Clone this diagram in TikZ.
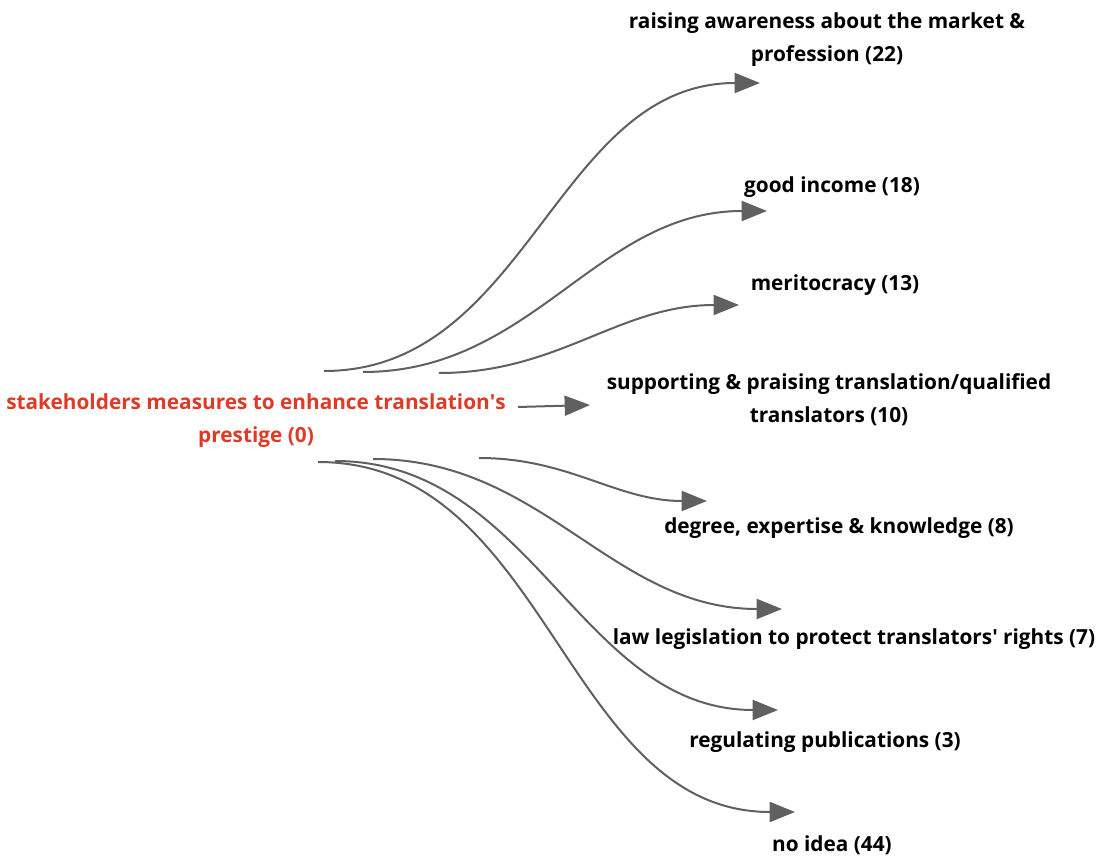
\documentclass[tikz,border=0pt]{standalone}
\usepackage{fontspec}
\setmainfont{Open Sans}
\usetikzlibrary{arrows.meta,positioning}
\definecolor{rootred}{RGB}{222,58,38}
\definecolor{linkgray}{RGB}{96,96,96}

\begin{document}
\begin{tikzpicture}[
    x=0.75pt, y=-0.75pt,
    font=\bfseries\fontsize{15.6}{24.8}\selectfont,
    label/.style={align=center, inner sep=0pt},
    root/.style={label, text=rootred},
    link/.style={-{Triangle[length=19pt, width=15pt]}, draw=linkgray, line width=1.5pt}
]
\useasboundingbox (0,0) rectangle (1104,859);

\node[root] (root) at (256,421) {stakeholders measures to enhance translation\textquotesingle s\\prestige (0)};

\node[label] (aware) at (827,40) {raising awareness about the market \&\\profession (22)};
\node[label] (income) at (832,187) {good income (18)};
\node[label] (merit) at (835,285) {meritocracy (13)};
\node[label] (support) at (829,400) {supporting \& praising translation/qualified\\translators (10)};
\node[label] (degree) at (839,528) {degree, expertise \& knowledge (8)};
\node[label] (law) at (854,639) {law legislation to protect translators\textquotesingle{} rights (7)};
\node[label] (publish) at (825,742) {regulating publications (3)};
\node[label] (noidea) at (832,845) {no idea (44)};

% curved links out of the root
\foreach \b/\sx/\sy/\tx/\ty in {aware/68/-50/-67/43, income/107/-49/-65/24, merit/183/-48/-96/20,
    degree/223/37/-132/-27, law/117/38/-72/-30, publish/79/40/-47/-32, noidea/62/41/-37/-33}
  \draw[link] ([shift={(\sx,\sy)}]root.center) to[out=0, in=180] ([shift={(\tx,\ty)}]\b.center);

\draw[link] ([shift={(262,-14)}]root.center) -- ([shift={(-239,5)}]support.center);
\end{tikzpicture}
\end{document}
